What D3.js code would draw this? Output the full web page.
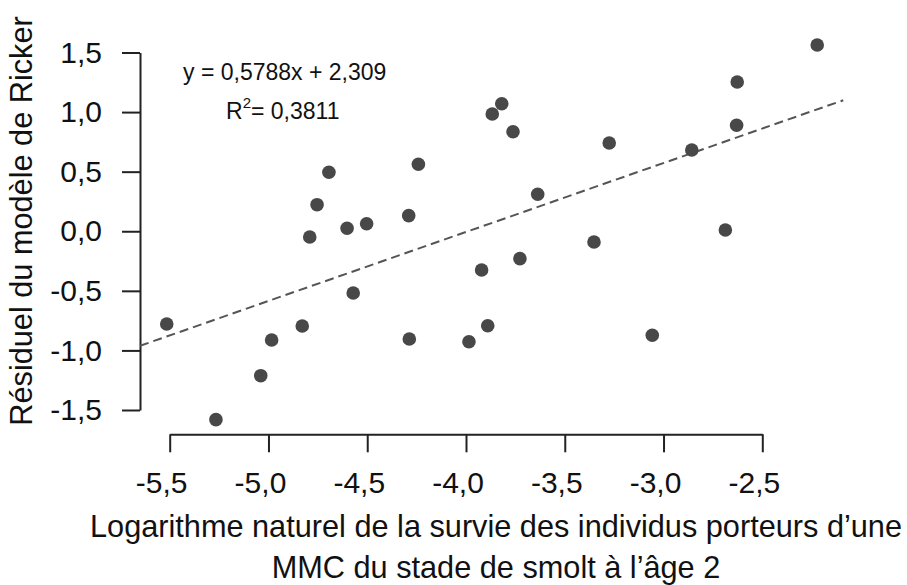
<!DOCTYPE html>
<html>
<head>
<meta charset="utf-8">
<script src="https://cdn.jsdelivr.net/npm/d3@7"></script>
<style>
  body { margin: 0; background: #fff; }
  text { font-family: "Liberation Sans", Arial, sans-serif; fill: #111; }
</style>
</head>
<body>
<div id="app"></div>
<script>
const width = 907;
const height = 585;

// survie (log) vs résiduel du modèle de Ricker
const survie = [
  -5.515, -5.266, -5.039, -4.984, -4.829, -4.791, -4.754, -4.694, -4.602, -4.571,
  -4.503, -4.29, -4.287, -4.241, -3.985, -3.921, -3.89, -3.867, -3.819, -3.762,
  -3.727, -3.637, -3.352, -3.275, -3.057, -2.857, -2.687, -2.63, -2.627, -2.222
];
const residuel = [
  -0.778, -1.581, -1.212, -0.913, -0.795, -0.048, 0.223, 0.495, 0.025, -0.518,
  0.063, 0.131, -0.904, 0.562, -0.927, -0.325, -0.793, 0.984, 1.07, 0.835,
  -0.23, 0.31, -0.09, 0.741, -0.873, 0.682, 0.011, 0.889, 1.252, 1.563
];
const xTicks = [-5.5, -5.0, -4.5, -4.0, -3.5, -3.0, -2.5];
const yTicks = [-1.5, -1.0, -0.5, 0.0, 0.5, 1.0, 1.5];
const slope = 0.5788;
const intercept = 2.309;
const fitRange = [-5.65, -2.09];

const frLocale = d3.formatLocale({
  decimal: ",", thousands: " ", grouping: [3], currency: ["", " €"], minus: "-"
});
const fmt = frLocale.format(".1f");

document.getElementById("app").innerHTML = `
  <svg width="${width}" height="${height}"></svg>
`;
const svg = d3.select("svg");

const x = d3.scaleLinear().domain([-5.5, -2.5]).range([169.7, 762.3]);
const y = d3.scaleLinear().domain([-1.5, 1.5]).range([410, 52.5]);

svg
  .append("g")
  .attr("transform", "translate(140,0)")
  .call(
    d3.axisLeft(y).tickValues(yTicks).tickFormat(fmt)
      .tickSize(18).tickSizeOuter(0).tickPadding(20)
  );

const xAxis = svg
  .append("g")
  .attr("transform", "translate(0,434.3)")
  .call(
    d3.axisBottom(x).tickValues(xTicks).tickFormat(fmt)
      .tickSize(18).tickSizeOuter(0).tickPadding(19)
  );

svg.selectAll(".domain, .tick line")
  .attr("stroke", "#222")
  .attr("stroke-width", 2);
svg.selectAll(".tick text")
  .attr("font-family", "Liberation Sans, Arial, sans-serif")
  .attr("font-size", 30)
  .attr("fill", "#111");
xAxis.selectAll(".tick text").attr("dx", -8.5);

// droite de régression
svg
  .append("line")
  .attr("x1", x(fitRange[0]))
  .attr("y1", y(slope * fitRange[0] + intercept))
  .attr("x2", x(fitRange[1]))
  .attr("y2", y(slope * fitRange[1] + intercept))
  .attr("stroke", "#555")
  .attr("stroke-width", 2)
  .attr("stroke-dasharray", "9,5");

svg
  .append("g")
  .selectAll("circle")
  .data(d3.zip(survie, residuel))
  .enter()
  .append("circle")
  .attr("cx", d => x(d[0]))
  .attr("cy", d => y(d[1]))
  .attr("r", 6.8)
  .attr("fill", "#484848");

// équation
svg
  .append("text")
  .attr("x", 183)
  .attr("y", 80)
  .attr("font-size", 23)
  .text("y = 0,5788x + 2,309");

const r2 = svg
  .append("text")
  .attr("x", 226)
  .attr("y", 119)
  .attr("font-size", 23);
r2.append("tspan").text("R");
r2.append("tspan").attr("font-size", 15).attr("dy", -11).text("2");
r2.append("tspan").attr("dy", 11).text("= 0,3811");

// titres
svg
  .append("text")
  .attr("transform", "translate(32,221) rotate(-90)")
  .attr("text-anchor", "middle")
  .attr("font-size", 30.7)
  .text("Résiduel du modèle de Ricker");

const xTitle = svg
  .append("text")
  .attr("text-anchor", "middle")
  .attr("font-size", 30.7);
xTitle.append("tspan").attr("x", 496).attr("y", 537)
  .text("Logarithme naturel de la survie des individus porteurs d’une");
xTitle.append("tspan").attr("x", 496).attr("y", 578)
  .text("MMC du stade de smolt à l’âge 2");
</script>
</body>
</html>
